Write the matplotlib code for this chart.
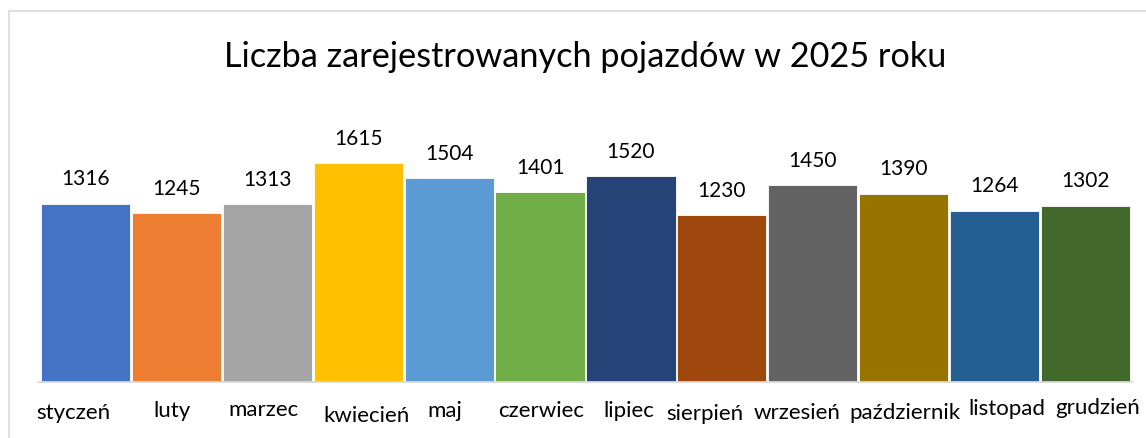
import matplotlib.pyplot as plt
from matplotlib.patches import Rectangle
from matplotlib.lines import Line2D

months = ['styczeń', 'luty', 'marzec', 'kwiecień', 'maj', 'czerwiec',
          'lipiec', 'sierpień', 'wrzesień', 'październik', 'listopad', 'grudzień']
counts = [1316, 1245, 1313, 1615, 1504, 1401, 1520, 1230, 1450, 1390, 1264, 1302]
colors = ['#4472C4', '#ED7D31', '#A5A5A5', '#FFC000', '#5B9BD5', '#70AD47',
          '#264478', '#9E480E', '#636363', '#997300', '#255E91', '#43682B']

# small pixel nudges of the month labels, as Excel placed them
label_dx = [-12, -4, -4, 8, -4, 1, -2, -17, -16, 1, 12, 12]
label_dy = [0, 2, 3, -3, 2, 2, 2, -1, 0, 0, 4, 5]

plt.rcParams['font.family'] = ['Lato', 'DejaVu Sans']

fig = plt.figure(figsize=(11.46, 4.39), dpi=100)
W, H = 1146, 439

# chart border
fig.patches.append(Rectangle((9 / W, -0.1), 1.2, (H - 12) / H + 0.1,
                             transform=fig.transFigure, fill=False,
                             edgecolor='#D9D9D9', linewidth=1.2))

ax = fig.add_axes([40 / W, 56 / H, 1091 / W, 244 / H])
x = list(range(len(months)))
ax.bar(x, counts, width=0.98, color=colors, edgecolor='white', linewidth=0.6)
ax.set_xlim(-0.5, len(months) - 0.5)
ax.set_ylim(0, 1800)
ax.axis('off')

# baseline
fig.lines.append(Line2D([38 / W, 1132 / W], [56 / H, 56 / H], transform=fig.transFigure,
                        color='#D9D9D9', linewidth=1.3))

for xi, v in zip(x, counts):
    ax.annotate(str(v), (xi, v), xytext=(0, 14), textcoords='offset points',
                ha='center', va='baseline', fontsize=15, color='#000000')

for xi, m, dx, dy in zip(x, months, label_dx, label_dy):
    ax.annotate(m, (xi, 0), xycoords=('data', 'axes fraction'),
                xytext=(dx * 0.72, -(36 + -dy) * 0.72), textcoords='offset points',
                ha='center', va='baseline', fontsize=16, color='#000000')

fig.text(585 / W, (H - 67) / H, 'Liczba zarejestrowanych pojazdów w 2025 roku',
         ha='center', va='baseline', fontsize=24.7, color='#000000')

fig.savefig('out.png', dpi=100)
